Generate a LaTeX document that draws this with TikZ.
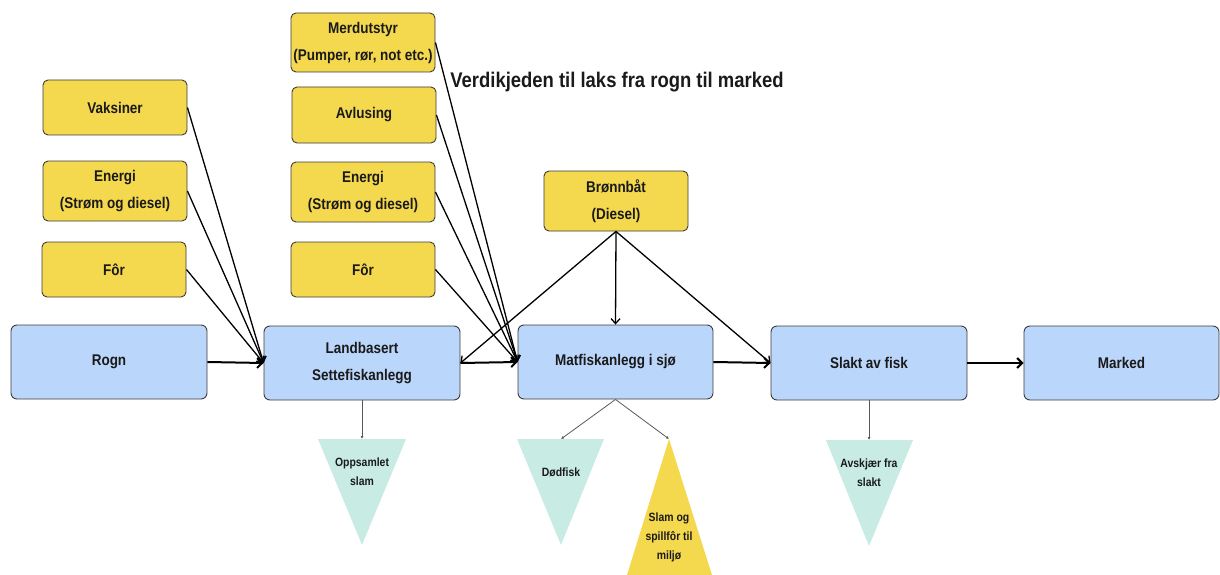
\documentclass[tikz,border=0pt]{standalone}
\usepackage{fontspec}
\setmainfont{Liberation Sans}[FakeStretch=0.87]
\usetikzlibrary{arrows.meta}
\definecolor{ylw}{HTML}{F4D84D}
\definecolor{blu}{HTML}{BBD6FB}
\definecolor{teal}{HTML}{C8ECE4}
\definecolor{bordc}{HTML}{3C3C3C}
\definecolor{txt}{HTML}{1A1A1A}
\newcommand{\boxfnt}{\fontsize{15.5}{27}\selectfont\bfseries}
\newcommand{\trifnt}{\fontsize{12}{19}\selectfont\bfseries}
\begin{document}
\begin{tikzpicture}[x=1pt,y=-1pt,
  ybox/.style={draw=bordc, line width=0.9pt, fill=ylw, rounded corners=5pt,
    minimum width=144pt, minimum height=56pt, inner sep=0pt, align=center,
    font=\boxfnt, text=txt},
  bbox/.style={draw=bordc, line width=0.9pt, fill=blu, rounded corners=6pt,
    minimum width=196pt, minimum height=74pt, inner sep=0pt, align=center,
    font=\boxfnt, text=txt},
  trilabel/.style={align=center, font=\trifnt, text=txt, inner sep=0pt},
  feed/.style={draw=black, line width=1.3pt, -{Straight Barb[length=5pt,width=9pt]}},
  mainarrow/.style={draw=black, line width=2pt, -{Straight Barb[length=5pt,width=10pt]}},
  waste/.style={draw=black!65, line width=0.8pt, -{Latex[length=3pt,width=3pt]}}
]
\useasboundingbox (0,0) rectangle (1220,575);

% input boxes left
\node[ybox, minimum height=55pt] (vak) at (115,107.5) {Vaksiner};
\node[ybox, minimum height=60pt] (eng1) at (115,191) {Energi\\(Strøm og diesel)};
\node[ybox, minimum height=55pt] (for1) at (114,269.5) {Fôr};

% input boxes middle
\node[ybox, minimum height=59pt] (merd) at (363,42.5) {Merdutstyr\\(Pumper, rør, not etc.)};
\node[ybox, minimum height=56pt] (avl) at (364,115) {Avlusing};
\node[ybox, minimum height=60pt] (eng2) at (363,192) {Energi\\(Strøm og diesel)};
\node[ybox, minimum height=55pt] (for2) at (363,269.5) {Fôr};

\node[ybox, minimum height=60pt] (bronn) at (616,201) {Brønnbåt\\(Diesel)};

% title
\node[anchor=base, inner sep=0pt, text=txt, font=\fontsize{21.2}{26}\selectfont\bfseries] (title) at (617,88) {Verdikjeden til laks fra rogn til marked};

% main chain
\node[bbox] (rogn) at (109,362) {Rogn};
\node[bbox] (land) at (362,363) {Landbasert\\Settefiskanlegg};
\node[bbox, minimum width=195pt] (mat) at (615.5,362) {Matfiskanlegg i sjø};
\node[bbox] (slakt) at (869,363) {Slakt av fisk};
\node[bbox, minimum width=195pt] (marked) at (1121.5,363) {Marked};

% triangles
\coordinate (opptop) at (362,439);
\coordinate (dodtop) at (561,439);
\coordinate (slamtop) at (669,439);
\coordinate (avstop) at (869,440);
\fill[teal] (318,439) -- (406,439) -- (362,545) -- cycle;
\fill[teal] (517,439) -- (604,439) -- (561,545) -- cycle;
\fill[teal] (826,440) -- (913,440) -- (869,546) -- cycle;
\fill[ylw] (slamtop) -- (712,575) -- (627,575) -- cycle;
\node[trilabel] (opp) at (362,471.5) {Oppsamlet\\slam};
\node[trilabel] (dod) at (561,472) {Dødfisk};
\node[trilabel] (slam) at (669,537) {Slam og\\spillfôr til\\miljø};
\node[trilabel] (avs) at (869,472.5) {Avskjær fra\\slakt};

% feeds into Landbasert
\draw[feed] (vak.east) -- (land.west);
\draw[feed] (eng1.east) -- (land.west);
\draw[feed] (for1.east) -- (land.west);
% feeds into Matfisk
\draw[feed] (merd.east) -- (mat.west);
\draw[feed] (avl.east) -- (mat.west);
\draw[feed] (eng2.east) -- (mat.west);
\draw[feed] (for2.east) -- (mat.west);
% bronnbat
\draw[feed] (bronn.south) -- (land.east);
\draw[feed] (bronn.south) -- (mat.north);
\draw[feed] (bronn.south) -- (slakt.west);

% main arrows
\draw[mainarrow] (rogn.east) -- (land.west);
\draw[mainarrow] (land.east) -- (mat.west);
\draw[mainarrow] (mat.east) -- (slakt.west);
\draw[mainarrow] (slakt.east) -- (marked.west);

% waste arrows
\draw[waste] (land.south) -- (opptop);
\draw[waste] (mat.south) -- (dodtop);
\draw[waste] (mat.south) -- (slamtop);
\draw[waste] (slakt.south) -- (avstop);
\end{tikzpicture}
\end{document}
